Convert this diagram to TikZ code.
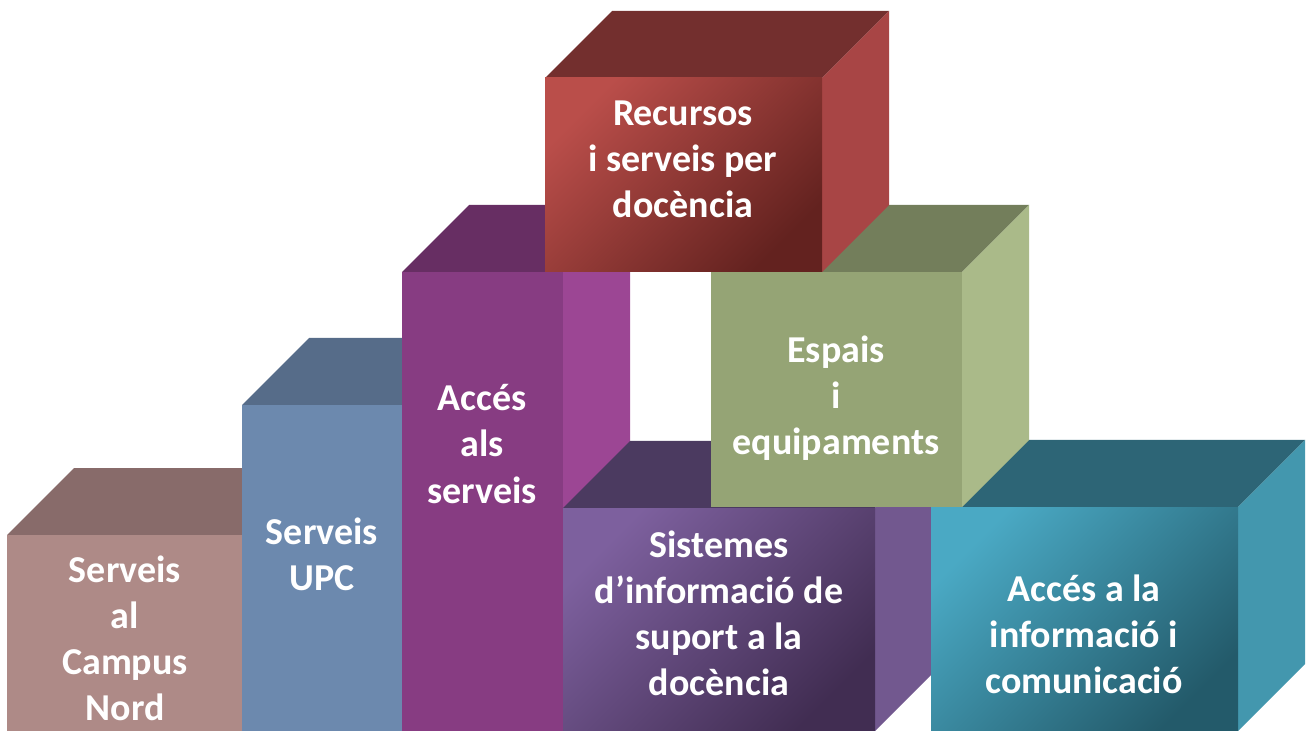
\documentclass[tikz,border=0pt]{standalone}
\usepackage{fontspec}
\setmainfont{Carlito}

\definecolor{nordfront}{HTML}{AE8A87}
\definecolor{nordtop}{HTML}{886B6A}
\definecolor{upcfront}{HTML}{6C89AE}
\definecolor{upctop}{HTML}{566C89}
\definecolor{accfront}{HTML}{873C82}
\definecolor{accside}{HTML}{9C4694}
\definecolor{acctop}{HTML}{672E63}
\definecolor{siflight}{HTML}{7D609E}
\definecolor{sifdark}{HTML}{412D52}
\definecolor{siside}{HTML}{72588F}
\definecolor{sitop}{HTML}{4B3A60}
\definecolor{inflight}{HTML}{4AA9C4}
\definecolor{infdark}{HTML}{235A6A}
\definecolor{infside}{HTML}{4397AE}
\definecolor{inftop}{HTML}{2D6576}
\definecolor{espfront}{HTML}{95A475}
\definecolor{espside}{HTML}{AABA89}
\definecolor{esptop}{HTML}{737E5B}
\definecolor{reclight}{HTML}{BA4E4A}
\definecolor{recdark}{HTML}{63221F}
\definecolor{recside}{HTML}{A84545}
\definecolor{rectop}{HTML}{732F2E}

\begin{document}
\begin{tikzpicture}[x=0.01cm,y=-0.01cm,
    lbl/.style={align=center,text=white,inner sep=0pt,
        font=\fontsize{10.8}{13.1}\selectfont\bfseries}]
    \useasboundingbox (0,0) rectangle (1307,731);

    % Serveis al Campus Nord
    \fill[nordtop] (7,535) -- ++(67,-67) -- ++(235,0) -- ++(-67,67) -- cycle;
    \fill[nordfront] (7,535) rectangle (242,731);
    \node[lbl] (nord) at (125,638) {Serveis\\al\\Campus\\Nord};

    % Serveis UPC
    \fill[upctop] (242,405) -- ++(67,-67) -- ++(160,0) -- ++(-67,67) -- cycle;
    \fill[upcfront] (242,405) rectangle (402,731);
    \node[lbl] (upc) at (322,554) {Serveis\\UPC};

    % Acces als serveis
    \fill[acctop] (402,272) -- ++(67,-67) -- ++(161,0) -- ++(-67,67) -- cycle;
    \fill[accside] (563,272) -- ++(67,-67) -- ++(0,459) -- ++(-67,67) -- cycle;
    \fill[accfront] (402,272) rectangle (563,731);
    \node[lbl] (acces) at (482,444) {Accés\\als\\serveis};

    % Sistemes d'informacio
    \fill[sitop] (563,508) -- ++(67,-67) -- ++(312,0) -- ++(-67,67) -- cycle;
    \fill[siside] (875,508) -- ++(67,-67) -- ++(0,223) -- ++(-67,67) -- cycle;
    \shade[top color=siflight,bottom color=sifdark,shading angle=45]
        (563,508) rectangle (875,731);
    \node[lbl] (sistemes) at (719,613) {Sistemes\\d’informació de\\suport a la\\docència};

    % Acces a la informacio
    \fill[inftop] (931,507) -- ++(67,-67) -- ++(307,0) -- ++(-67,67) -- cycle;
    \fill[infside] (1238,507) -- ++(67,-67) -- ++(0,224) -- ++(-67,67) -- cycle;
    \shade[top color=inflight,bottom color=infdark,shading angle=45]
        (931,507) rectangle (1238,731);
    \node[lbl] (informacio) at (1084,634) {Accés a la\\informació i\\comunicació};

    % Espais i equipaments
    \fill[esptop] (711,272) -- ++(67,-67) -- ++(251,0) -- ++(-67,67) -- cycle;
    \fill[espside] (962,272) -- ++(67,-67) -- ++(0,235) -- ++(-67,67) -- cycle;
    \fill[espfront] (711,272) rectangle (962,507);
    \node[lbl] (espais) at (836,398) {Espais\\i\\equipaments};

    % Recursos i serveis
    \fill[rectop] (545,78) -- ++(67,-67) -- ++(277,0) -- ++(-67,67) -- cycle;
    \fill[recside] (822,78) -- ++(67,-67) -- ++(0,194) -- ++(-67,67) -- cycle;
    \shade[top color=reclight,bottom color=recdark,shading angle=45]
        (545,78) rectangle (822,272);
    \node[lbl] (recursos) at (683,159) {Recursos\\i serveis per\\docència};
\end{tikzpicture}
\end{document}
